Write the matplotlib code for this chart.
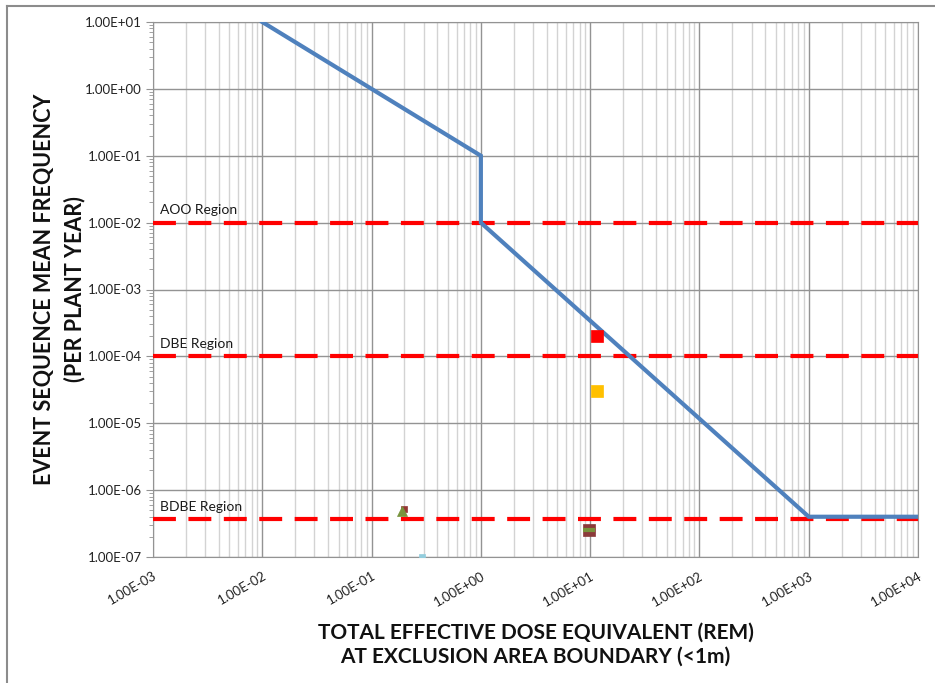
import numpy as np
import matplotlib
matplotlib.use("Agg")
import matplotlib.pyplot as plt
from matplotlib.ticker import LogLocator, FuncFormatter, NullFormatter
from matplotlib.lines import Line2D

plt.rcParams['font.family'] = ['Lato', 'DejaVu Sans']

# limit curve (dose vs frequency)
curve_x = [1e-2, 1.0, 1.0, 1e3, 1e4]
curve_y = [1e1, 1e-1, 1e-2, 4e-7, 4e-7]

# region boundaries
region_names = ['AOO Region', 'DBE Region', 'BDBE Region']
region_y = [1e-2, 1e-4, 3.7e-7]

# event sequences: x, y, colour, marker, size
pts_x = [11.5, 11.5, 0.20, 0.19, 9.75, 9.75, 0.29]
pts_y = [2e-4, 3e-5, 5.2e-7, 4.9e-7, 2.55e-7, 2.55e-7, 1e-7]
pts_c = ['#FF0000', '#FFC000', '#953735', '#77933C', '#8B3A3A', '#77933C', '#93CDDD']
pts_m = ['s', 's', 's', '^', 's', '_', 's']
pts_s = [8, 8, 4, 7, 8, 8, 5]

x_ticks = [1e-3, 1e-2, 1e-1, 1e0, 1e1, 1e2, 1e3, 1e4]
y_ticks = [1e-7, 1e-6, 1e-5, 1e-4, 1e-3, 1e-2, 1e-1, 1e0, 1e1]

fig = plt.figure(figsize=(9.35, 6.83), dpi=100)
ax = fig.add_axes([153/935, 1-557/683, (918-153)/935, (557-22)/683])
ax.set_xscale('log')
ax.set_yscale('log')
ax.set_xlim(1e-3, 1e4)
ax.set_ylim(1e-7, 1e1)

ax.set_xticks(x_ticks)
ax.set_yticks(y_ticks)
ax.xaxis.set_minor_locator(LogLocator(base=10, subs=np.arange(2, 10), numticks=20))
ax.yaxis.set_minor_locator(LogLocator(base=10, subs=np.arange(2, 10), numticks=20))
fmt = FuncFormatter(lambda v, p: f"{v:.2E}")
ax.xaxis.set_major_formatter(fmt)
ax.yaxis.set_major_formatter(fmt)
ax.xaxis.set_minor_formatter(NullFormatter())
ax.yaxis.set_minor_formatter(NullFormatter())

ax.grid(True, which='major', axis='both', color='#939393', lw=1.0)
ax.grid(True, which='minor', axis='x', color='#D3D3D3', lw=1.0)
ax.set_axisbelow(True)
for s in ax.spines.values():
    s.set_color('#939393')

ax.tick_params(axis='x', which='both', length=0, labelsize=9.5, colors='#222222', pad=9)
ax.tick_params(axis='y', which='major', length=5, color='#939393', labelsize=9.5,
               labelcolor='#222222', pad=3)
ax.tick_params(axis='y', which='minor', length=3, color='#939393')
for lbl in ax.get_xticklabels():
    lbl.set_rotation(30)
    lbl.set_ha('right')
    lbl.set_rotation_mode('anchor')

for name, yv in zip(region_names, region_y):
    ax.axhline(yv, color='#FF0000', lw=3, dashes=(5.5, 3), zorder=3)
    ax.text(1.17e-3, yv * 1.25, name, fontsize=10, color='#1a1a1a', va='bottom', ha='left')

ax.plot(curve_x, curve_y, color='#4F81BD', lw=3, zorder=4, solid_joinstyle='miter')

for x, y, c, m, s in zip(pts_x, pts_y, pts_c, pts_m, pts_s):
    ax.plot([x], [y], marker=m, color=c, ms=s, mew=3 if m == '_' else 0.5,
            mec=c, ls='none', zorder=5)

ax.set_xlabel('TOTAL EFFECTIVE DOSE EQUIVALENT (REM)\nAT EXCLUSION AREA BOUNDARY (<1m)',
              fontsize=15, fontweight='bold', color='#111111', labelpad=10, linespacing=1.3)
ax.set_ylabel('EVENT SEQUENCE MEAN FREQUENCY\n(PER PLANT YEAR)',
              fontsize=15.5, fontweight='bold', color='#111111', labelpad=0, linespacing=1.45)

fig.add_artist(Line2D([7/935, 7/935], [0, 1-6/683], color='#8C8C8C', lw=1.5))
fig.add_artist(Line2D([7/935, 1], [1-6/683, 1-6/683], color='#8C8C8C', lw=1.5))

fig.savefig('out.png', dpi=100)
